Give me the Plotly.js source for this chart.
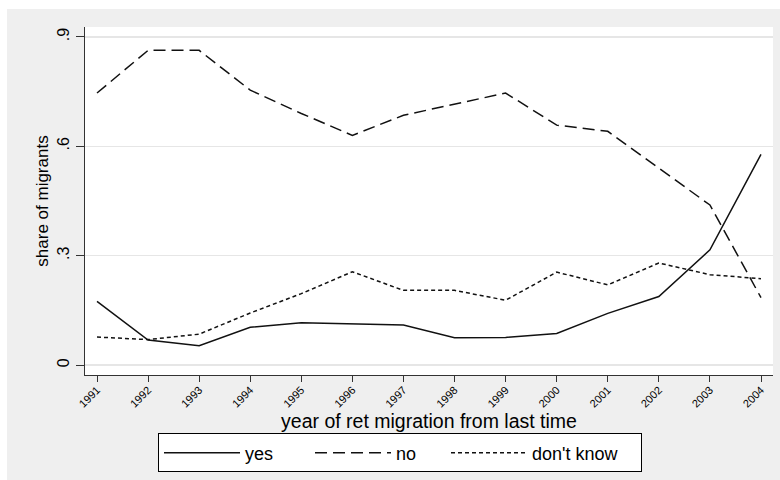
<!DOCTYPE html>
<html>
<head>
<meta charset="utf-8">
<script src="https://cdn.plot.ly/plotly-3.0.1.min.js"></script>
<style>
  html, body { margin: 0; padding: 0; background: #ffffff; }
  #chart { width: 780px; height: 480px; }
</style>
</head>
<body>
<div id="chart"></div>
<script>
'use strict';

// values
var years = [1991, 1992, 1993, 1994, 1995, 1996, 1997, 1998, 1999, 2000, 2001, 2002, 2003, 2004];
var yes = [0.175, 0.069, 0.053, 0.104, 0.116, 0.114, 0.110, 0.075, 0.076, 0.087, 0.142, 0.188, 0.316, 0.578];
var no = [0.746, 0.863, 0.863, 0.754, 0.690, 0.630, 0.685, 0.716, 0.746, 0.658, 0.641, 0.540, 0.439, 0.185];
var dontKnow = [0.077, 0.070, 0.085, 0.143, 0.196, 0.256, 0.205, 0.205, 0.178, 0.255, 0.220, 0.280, 0.248, 0.237];

var seriesNames = ['yes', 'no', "don't know"];
var yTickVals = [0, 0.3, 0.6, 0.9];
var yTickText = ['0', '.3', '.6', '.9'];
var xTickText = years.map(String);

var FONT = 'Liberation Sans, Arial, sans-serif';

function line (name, y, dash, legendWidth) {
    return {
        type: 'scatter',
        mode: 'lines',
        name: name,
        x: years,
        y: y,
        line: { color: '#111111', width: 1.5, dash: dash },
        legendwidth: legendWidth,
        hoverinfo: 'none'
    };
}

var traces = [
    line(seriesNames[0], yes, 'solid', 60),
    line(seriesNames[1], no, '12px,6px', 45),
    line(seriesNames[2], dontKnow, '4px,3px', 104)
];

var layout = {
    width: 780,
    height: 480,
    margin: { l: 85, r: 7, t: 27, b: 103 },
    paper_bgcolor: '#efefef',
    plot_bgcolor: '#ffffff',
    font: { family: FONT, color: '#000000' },
    showlegend: true,
    xaxis: {
        range: [1990.765, 2004.235],
        tickvals: years,
        ticktext: xTickText,
        tickangle: -45,
        tickfont: { size: 11 },
        ticks: 'outside',
        ticklen: 6,
        tickcolor: '#333333',
        ticklabelstandoff: -3,
        showgrid: false,
        zeroline: false,
        showline: true,
        linecolor: '#333333',
        linewidth: 1.3,
        title: { text: 'year of ret migration from last time', font: { size: 19.5 }, standoff: 0 }
    },
    yaxis: {
        range: [-0.027, 0.927],
        tickvals: yTickVals,
        ticktext: yTickText,
        tickangle: -90,
        tickfont: { size: 16 },
        ticks: 'outside',
        ticklen: 8,
        tickcolor: '#333333',
        showgrid: true,
        gridcolor: '#e6e6e6',
        gridwidth: 1.3,
        zeroline: false,
        showline: true,
        linecolor: '#333333',
        linewidth: 1.3,
        title: { text: 'share of migrants', font: { size: 17 }, standoff: 2 }
    },
    legend: {
        orientation: 'h',
        x: (158 - 85) / 688,
        xanchor: 'left',
        y: -0.168,
        yanchor: 'top',
        bgcolor: '#ffffff',
        bordercolor: '#000000',
        borderwidth: 1,
        font: { size: 18 },
        itemwidth: 76
    },
    shapes: [
        // white frame strip above and left of the grey graph region
        { type: 'rect', xref: 'paper', yref: 'paper', x0: -0.2, x1: 1.1, y0: 1 + 18 / 350, y1: 1.2,
          fillcolor: '#ffffff', line: { width: 0 }, layer: 'below' },
        { type: 'rect', xref: 'paper', yref: 'paper', x0: -0.2, x1: -78 / 688, y0: -0.4, y1: 1.2,
          fillcolor: '#ffffff', line: { width: 0 }, layer: 'below' }
    ]
};

Plotly.newPlot(document.getElementById('chart'), traces, layout, { displayModeBar: false, staticPlot: true });
</script>
</body>
</html>
